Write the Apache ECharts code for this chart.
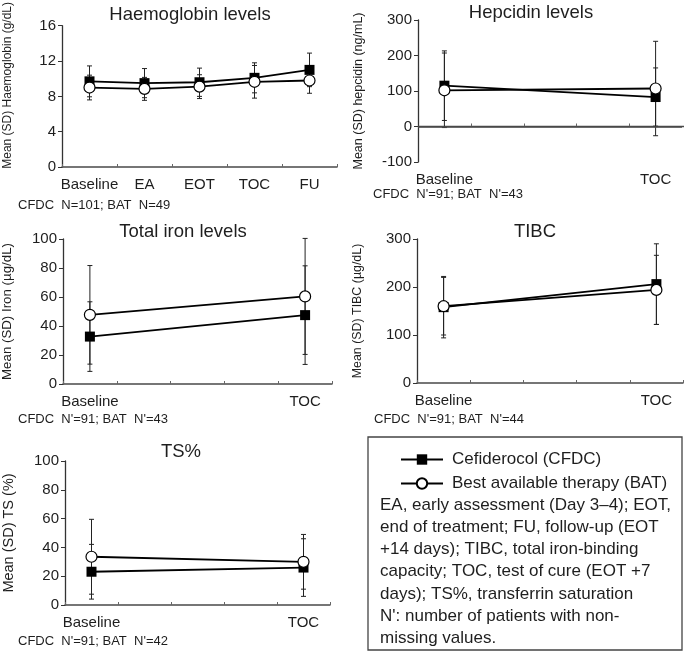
<!DOCTYPE html>
<html><head><meta charset="utf-8">
<script src="https://cdn.jsdelivr.net/npm/echarts@6/dist/echarts.min.js"></script>
<style>html,body{margin:0;padding:0;background:#fff}#c{width:685px;height:654px}</style>
</head><body><div id="c"></div>
<script>
// ---------- data ----------
const hbCategories = ['Baseline', 'EA', 'EOT', 'TOC', 'FU'];
const visitSlots = ['Baseline', 'slot2', 'slot3', 'slot4', 'TOC'];
const visitLabels = ['Baseline', 'TOC'];
const twoVisits = ['Baseline', 'TOC'];

const hbCfdcMean = [9.7, 9.5, 9.6, 10.1, 11.0];
const hbCfdcSd   = [1.75, 1.65, 1.6, 1.7, 1.9];
const hbBatMean  = [9.0, 8.85, 9.1, 9.65, 9.8];
const hbBatSd    = [1.4, 1.3, 1.35, 1.85, 1.45];

const hepCfdcMean = [115, 83];
const hepCfdcSd   = [98, 82];
const hepBatMean  = [102, 107];
const hepBatSd    = [105, 133];

const ironCfdcMean = [32.7, 47.5];
const ironCfdcSd   = [24, 34];
const ironBatMean  = [47.7, 60.4];
const ironBatSd    = [34, 40];

const tibcCfdcMean = [158, 206];
const tibcCfdcSd   = [64, 84];
const tibcBatMean  = [160, 194];
const tibcBatSd    = [60, 72];

const tsCfdcMean = [23.1, 26];
const tsCfdcSd   = [19, 20];
const tsBatMean  = [33.5, 30];
const tsBatSd    = [26, 19];

const hbAxis   = [0, 16, 4];
const hepAxis  = [-100, 300, 100];
const ironAxis = [0, 100, 20];
const tibcAxis = [0, 300, 100];
const tsAxis   = [0, 100, 20];
const hepReference = 0;

const seriesNames = ['Cefiderocol (CFDC)', 'Best available therapy (BAT)'];
const footnoteText = ['EA, early assessment (Day 3\u20134); EOT,', 'end of treatment; FU, follow-up (EOT',
  '+14 days); TIBC, total iron-binding', 'capacity; TOC, test of cure (EOT +7',
  'days); TS%, transferrin saturation', "N': number of patients with non-", 'missing values.'];

const panels = [
  {title: 'Haemoglobin levels', slots: hbCategories, shown: hbCategories, xs: hbCategories,
   yName: 'Mean (SD) Haemoglobin (g/dL)', axis: hbAxis,
   cfdc: [hbCfdcMean, hbCfdcSd], bat: [hbBatMean, hbBatSd], note: 'CFDC  N=101; BAT  N=49', zeroLine: false},
  {title: 'Hepcidin levels', slots: visitSlots, shown: visitLabels, xs: twoVisits,
   yName: 'Mean (SD) hepcidin (ng/mL)', axis: hepAxis,
   cfdc: [hepCfdcMean, hepCfdcSd], bat: [hepBatMean, hepBatSd], note: "CFDC  N'=91; BAT  N'=43", zeroLine: true},
  {title: 'Total iron levels', slots: visitSlots, shown: visitLabels, xs: twoVisits,
   yName: 'Mean (SD) Iron (\u00b5g/dL)', axis: ironAxis,
   cfdc: [ironCfdcMean, ironCfdcSd], bat: [ironBatMean, ironBatSd], note: "CFDC  N'=91; BAT  N'=43", zeroLine: false},
  {title: 'TIBC', slots: visitSlots, shown: visitLabels, xs: twoVisits,
   yName: 'Mean (SD) TIBC (\u00b5g/dL)', axis: tibcAxis,
   cfdc: [tibcCfdcMean, tibcCfdcSd], bat: [tibcBatMean, tibcBatSd], note: "CFDC  N'=91; BAT  N'=44", zeroLine: false},
  {title: 'TS%', slots: visitSlots, shown: visitLabels, xs: twoVisits,
   yName: 'Mean (SD) TS (%)', axis: tsAxis,
   cfdc: [tsCfdcMean, tsCfdcSd], bat: [tsBatMean, tsBatSd], note: "CFDC  N'=91; BAT  N'=42", zeroLine: false}
];

// ---------- layout ----------
const FONT = '"Liberation Sans", Arial, sans-serif';
const TXT = '#1e1e1e';
const layout = [
  {grid: {left: 62, top: 23, width: 275, height: 144}, title: [190, 5.5], nameGap: 48, nameSize: 12, namePad: [0, 0, 0, 22], note: [18, 205]},
  {grid: {left: 418, top: 20, width: 264, height: 142}, title: [531, 3], nameGap: 53, nameSize: 12.5, namePad: 0, note: [373, 194]},
  {grid: {left: 63, top: 239, width: 269, height: 145}, title: [183, 222.5], nameGap: 49, nameSize: 13.3, namePad: 0, note: [18, 419]},
  {grid: {left: 417, top: 239, width: 266, height: 144}, title: [535, 222.5], nameGap: 53, nameSize: 12.4, namePad: 0, note: [374, 419]},
  {grid: {left: 63, top: 461, width: 267, height: 144}, title: [181, 442.5], nameGap: 49, nameSize: 14.5, namePad: 0, note: [18, 641]}
];

function renderErr(params, api) {
  const x = api.value(0);
  const lo = api.coord([x, api.value(1)]);
  const hi = api.coord([x, api.value(2)]);
  const w = 2.5;
  const style = {stroke: '#222', lineWidth: 1};
  return {type: 'group', children: [
    {type: 'line', shape: {x1: lo[0], y1: lo[1], x2: hi[0], y2: hi[1]}, style},
    {type: 'line', shape: {x1: lo[0] - w, y1: lo[1], x2: lo[0] + w, y2: lo[1]}, style},
    {type: 'line', shape: {x1: hi[0] - w, y1: hi[1], x2: hi[0] + w, y2: hi[1]}, style}
  ]};
}

// horizontal axis line at the reference value, with small band-boundary ticks
function renderRefLine(params, api) {
  const cs = params.coordSys;
  const y = api.coord([api.value(0), api.value(1)])[1];
  const band = api.size([1, 0])[0];
  const children = [{type: 'line', shape: {x1: cs.x, y1: y, x2: cs.x + cs.width + 2, y2: y},
    style: {stroke: '#4a4a4a', lineWidth: 1.5}}];
  for (let k = 1; k <= 4; k++) {
    const tx = Math.round(cs.x + k * band) + 0.5;
    children.push({type: 'line', shape: {x1: tx, y1: y, x2: tx, y2: y - 3}, style: {stroke: '#666', lineWidth: 1}});
  }
  return {type: 'group', children: children};
}

const grids = [], xAxes = [], yAxes = [], series = [], titles = [], graphics = [];

panels.forEach((p, i) => {
  const L = layout[i];
  grids.push(L.grid);
  titles.push({text: p.title, left: L.title[0], top: L.title[1], textAlign: 'center', padding: 0,
    textStyle: {fontSize: 18.5, fontWeight: 'normal', color: TXT, fontFamily: FONT}});
  const shown = p.shown;
  xAxes.push({
    gridIndex: i, type: 'category', data: p.slots, boundaryGap: true, position: 'bottom',
    axisLine: {show: !p.zeroLine, onZero: false, lineStyle: {color: '#4a4a4a', width: 1.5}},
    axisTick: {show: !p.zeroLine, inside: true, length: 3, interval: 0, lineStyle: {color: '#666', width: 1}},
    axisLabel: {interval: 0, fontSize: 15, color: TXT, fontFamily: FONT, margin: 10,
      formatter: v => shown.indexOf(v) >= 0 ? v : ''},
    splitLine: {show: false}
  });
  yAxes.push({
    gridIndex: i, type: 'value', min: p.axis[0], max: p.axis[1], interval: p.axis[2],
    axisLine: {show: true, onZero: false, lineStyle: {color: '#333', width: 1.3}},
    axisTick: {show: true, length: 4, lineStyle: {color: '#333'}},
    axisLabel: {fontSize: 15, color: TXT, fontFamily: FONT, margin: 6},
    splitLine: {show: false},
    name: p.yName, nameLocation: 'middle', nameGap: L.nameGap,
    nameTextStyle: {fontSize: L.nameSize, color: TXT, fontFamily: FONT, padding: L.namePad}
  });
  if (p.zeroLine) {
    series.push({
      type: 'custom', xAxisIndex: i, yAxisIndex: i,
      encode: {x: 0, y: 1}, renderItem: renderRefLine,
      data: [[p.slots[0], hepReference]]
    });
  }
  [p.cfdc, p.bat].forEach((grp) => {
    series.push({
      type: 'custom', xAxisIndex: i, yAxisIndex: i,
      encode: {x: 0, y: [1, 2]}, renderItem: renderErr,
      data: p.xs.map((c, k) => [c, grp[0][k] - grp[1][k], grp[0][k] + grp[1][k]])
    });
  });
  const cfdcSeries = {
    name: seriesNames[0], type: 'line', xAxisIndex: i, yAxisIndex: i, z: 3,
    symbol: 'rect', symbolSize: 10, showAllSymbol: true,
    lineStyle: {color: '#000', width: 1.8}, itemStyle: {color: '#000'},
    data: p.xs.map((c, k) => [c, p.cfdc[0][k]])
  };
  if (p.zeroLine) {
    cfdcSeries.markLine = {symbol: 'none', label: {show: false},
      lineStyle: {color: '#4a4a4a', width: 1.5, type: 'solid'}, data: [{yAxis: hepReference}]};
  }
  series.push(cfdcSeries);
  series.push({
    name: seriesNames[1], type: 'line', xAxisIndex: i, yAxisIndex: i, z: 4,
    symbol: 'circle', symbolSize: 11, showAllSymbol: true,
    lineStyle: {color: '#000', width: 1.8}, itemStyle: {color: '#fff', borderColor: '#000', borderWidth: 1.2},
    data: p.xs.map((c, k) => [c, p.bat[0][k]])
  });
  graphics.push({type: 'text', x: L.note[0], y: L.note[1],
    style: {text: p.note, fontSize: 13, fontFamily: FONT, fill: TXT, verticalAlign: 'middle'}});
});

graphics.push({type: 'rect', shape: {x: 368, y: 437, width: 314, height: 213},
  style: {fill: 'none', stroke: '#444', lineWidth: 1.3}});
graphics.push({type: 'text', x: 380, y: 494,
  style: {text: footnoteText.join('\n'), fontSize: 17, lineHeight: 22.2, fontFamily: FONT, fill: TXT, verticalAlign: 'top'}});

const chart = echarts.init(document.getElementById('c'));
chart.setOption({
  animation: false,
  textStyle: {fontFamily: FONT},
  title: titles,
  grid: grids,
  xAxis: xAxes,
  yAxis: yAxes,
  legend: {data: seriesNames, orient: 'vertical', left: 400, top: 451, padding: 0, itemWidth: 42, itemHeight: 13, itemGap: 7,
    textStyle: {fontSize: 17, color: TXT, fontFamily: FONT, padding: [0, 0, 0, 4]}, selectedMode: false},
  series: series,
  graphic: graphics
});
</script></body></html>
